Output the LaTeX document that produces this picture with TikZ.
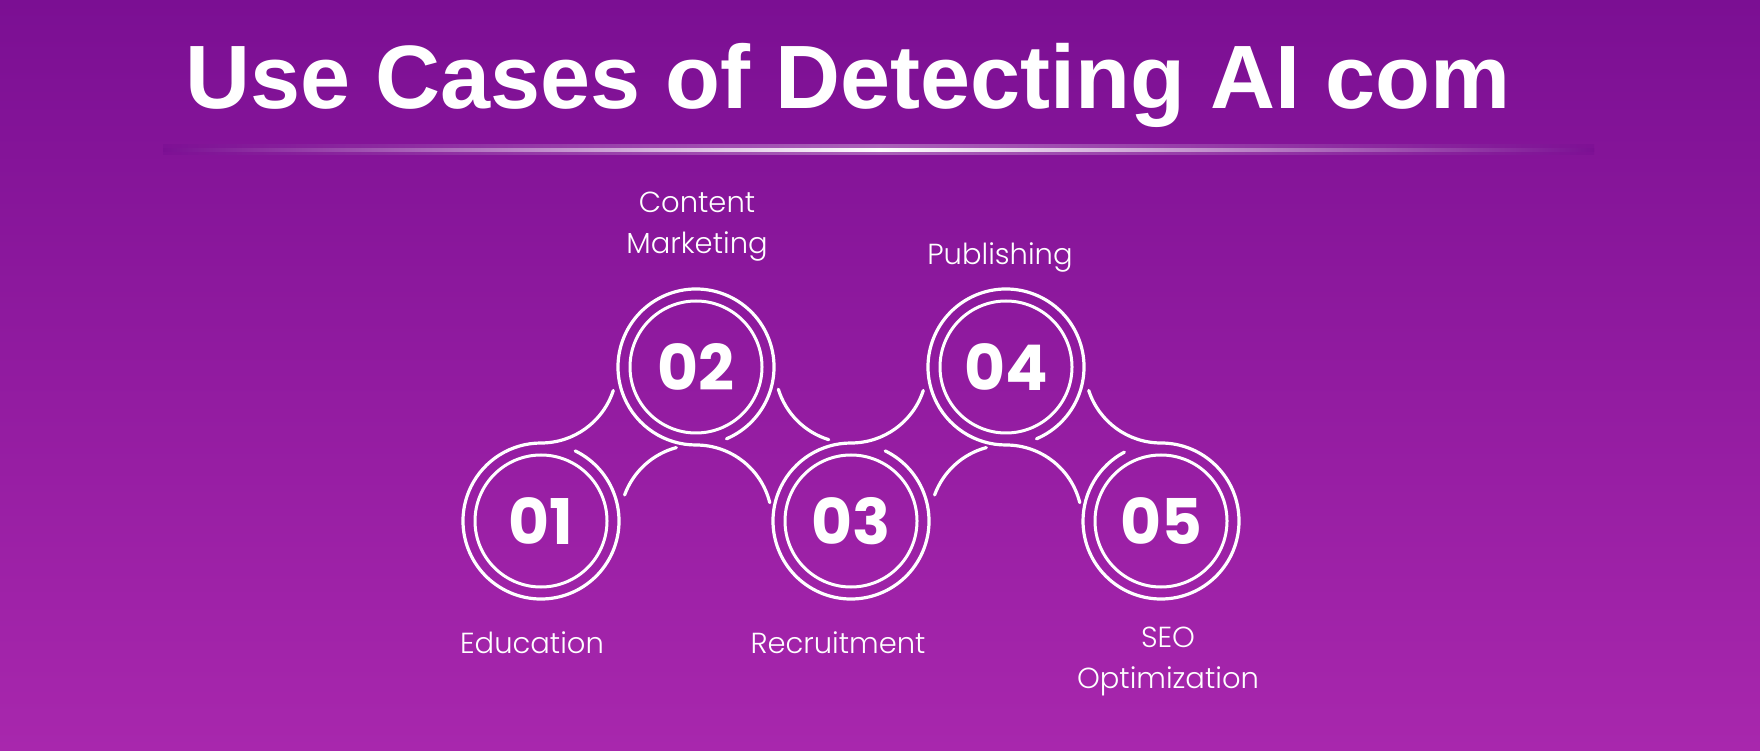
\documentclass[tikz,border=0pt]{standalone}
\usepackage{fontspec}
\setmainfont{Poppins}
\newfontfamily\labelfont{Poppins Light}
\newfontfamily\titlefont{Liberation Sans}
\usetikzlibrary{calc, positioning}
\definecolor{bgtop}{HTML}{7B0F93}
\definecolor{bgbot}{HTML}{A827AD}

\begin{document}
\begin{tikzpicture}[x=1pt,y=1pt,node distance=154pt and 155pt,on grid,
    ring/.style={draw=white, line width=3.2pt, line cap=round},
    num/.style={circle, draw=white, line width=3pt, minimum size=132pt, inner sep=0pt,
      text=white, font=\bfseries\fontsize{63}{63}\selectfont},
    lbl/.style={text=white, align=center, inner sep=0pt, font=\labelfont\fontsize{29}{41}\selectfont}]
  % background and title
  \shade[top color=bgtop, bottom color=bgbot] (0,0) rectangle (1760,750);
  \useasboundingbox (0,0) rectangle (1760,750);
  \node[anchor=base west, inner sep=0pt, text=white,
    font=\titlefont\bfseries\fontsize{90}{90}\selectfont] (title) at (185,641) {Use Cases of Detecting AI com};
  \shade[left color=bgtop, right color=bgtop, middle color=white!55!bgtop, opacity=.6] (163,595) rectangle (1594,605);
  \shade[left color=bgtop, right color=bgtop, middle color=white] (163,598.5) rectangle (1594,601.5);

  % circles
  \node[num] (c_1) at (541,229) {01};
  \node[num] (c_2) [above right=of c_1] {02};
  \node[num] (c_3) [below right=of c_2] {03};
  \node[num] (c_4) [above right=of c_3] {04};
  \node[num] (c_5) [below right=of c_4] {05};
  \coordinate (e_1) at ($(c_1)+(0,154)$);
  \coordinate (e_2) at ($(c_2)+(0,-154)$);
  \coordinate (e_3) at ($(c_3)+(0,154)$);
  \coordinate (e_4) at ($(c_4)+(0,-154)$);
  \coordinate (e_5) at ($(c_5)+(0,154)$);

  % outer rings and links
  \draw[ring] ($(c_1)+(64:78)$) arc[start angle=64, end angle=-270, radius=78]
    arc[start angle=-90, end angle=-18, radius=76];
  \draw[ring] ($(c_2)+(-67:78)$) arc[start angle=-67, end angle=270, radius=78]
    arc[start angle=90, end angle=14, radius=76];
  \draw[ring] ($(c_3)+(64:78)$) arc[start angle=64, end angle=-270, radius=78]
    arc[start angle=-90, end angle=-18, radius=76];
  \draw[ring] ($(c_4)+(-67:78)$) arc[start angle=-67, end angle=270, radius=78]
    arc[start angle=90, end angle=14, radius=76];
  \draw[ring] ($(e_5)+(198:76)$) arc[start angle=198, end angle=270, radius=76]
    arc[start angle=90, end angle=-242, radius=78];
  \draw[ring] ($(e_2)+(160:76)$) arc[start angle=160, end angle=105, radius=76];
  \draw[ring] ($(e_3)+(197:76)$) arc[start angle=197, end angle=253, radius=76];
  \draw[ring] ($(e_4)+(160:76)$) arc[start angle=160, end angle=105, radius=76];

  % labels
  \node[lbl, anchor=base] (l_1) at (532,97) {Education};
  \node[lbl] (l_2) at (697,523) {Content\\Marketing};
  \node[lbl, anchor=base] (l_3) at (838,97) {Recruitment};
  \node[lbl, anchor=base] (l_4) at (1000,485) {Publishing};
  \node[lbl] (l_5) at (1168,89) {SEO\\Optimization};
\end{tikzpicture}
\end{document}
